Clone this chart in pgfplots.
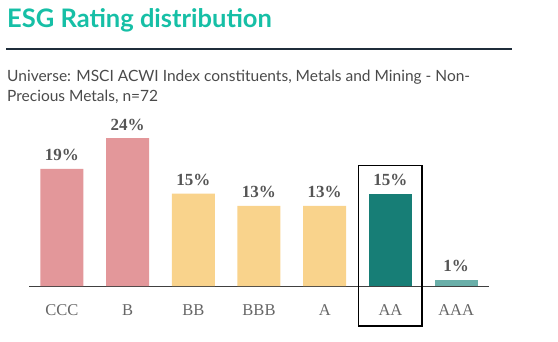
\documentclass[border=0pt]{standalone}
\usepackage{pgfplots}
\pgfplotsset{compat=1.18}
\usepackage{fontspec}
\setmainfont{Liberation Serif}
\newfontfamily\sansfont{Lato}
\definecolor{titlecol}{HTML}{16BFA6}
\definecolor{rulecol}{HTML}{1F2D3A}
\definecolor{subcol}{HTML}{4A4A4A}
\definecolor{pinkbar}{HTML}{E3979A}
\definecolor{yellowbar}{HTML}{F9D38C}
\definecolor{tealbar}{HTML}{177E76}
\definecolor{ltealbar}{HTML}{6AAFA9}
\definecolor{labcol}{HTML}{555555}
\definecolor{tickcol}{HTML}{666666}
\begin{document}
\begin{tikzpicture}[x=1pt,y=1pt]
\useasboundingbox (0,0) rectangle (558,-342);
\node[anchor=base west, inner sep=0, text=titlecol, font=\sansfont\bfseries\fontsize{25.5}{30}\selectfont] at (7,-28) {ESG Rating distribution};
\draw[rulecol, line width=2pt] (6,-49) -- (512,-49);
\node[anchor=base west, inner sep=0, text=subcol, font=\sansfont\fontsize{15.5}{18}\selectfont] at (7,-82) {Universe: MSCI ACWI Index constituents, Metals and Mining - Non-};
\node[anchor=base west, inner sep=0, text=subcol, font=\sansfont\fontsize{15.5}{18}\selectfont] at (7,-102) {Precious Metals, n=72};
\begin{axis}[
  at={(29pt,-286pt)}, anchor=south west,
  scale only axis, width=460pt, height=185pt,
  xmin=-0.5, xmax=6.5, ymin=0, ymax=30,
  axis x line=bottom, axis y line=none,
  x axis line style={-, draw=black!75, line width=1pt},
  xtick={0,1,2,3,4,5,6},
  xticklabels={CCC,B,BB,BBB,A,AA,AAA},
  major tick length=0pt,
  xticklabel style={font=\fontsize{16.5}{18}\selectfont, text=tickcol, anchor=base, yshift=-30pt},
  ybar, bar width=43pt, bar shift=0pt,
  clip=false,
  /pgf/number format/assume math mode=true,
  nodes near coords={\pgfmathprintnumber{\pgfplotspointmeta}\%},
  every node near coord/.append style={font=\bfseries\fontsize{17}{18}\selectfont, text=labcol, anchor=base, yshift=8pt},
]
\addplot[fill=pinkbar, draw=none] coordinates {(0,19) (1,24)};
\addplot[fill=yellowbar, draw=none] coordinates {(2,15) (3,13) (4,13)};
\addplot[fill=tealbar, draw=none] coordinates {(5,15)};
\addplot[fill=ltealbar, draw=none] coordinates {(6,1)};
\draw[black, line width=1.2pt] (axis cs:4.52,-6.5) rectangle (axis cs:5.48,19.6);
\end{axis}
\end{tikzpicture}
\end{document}
